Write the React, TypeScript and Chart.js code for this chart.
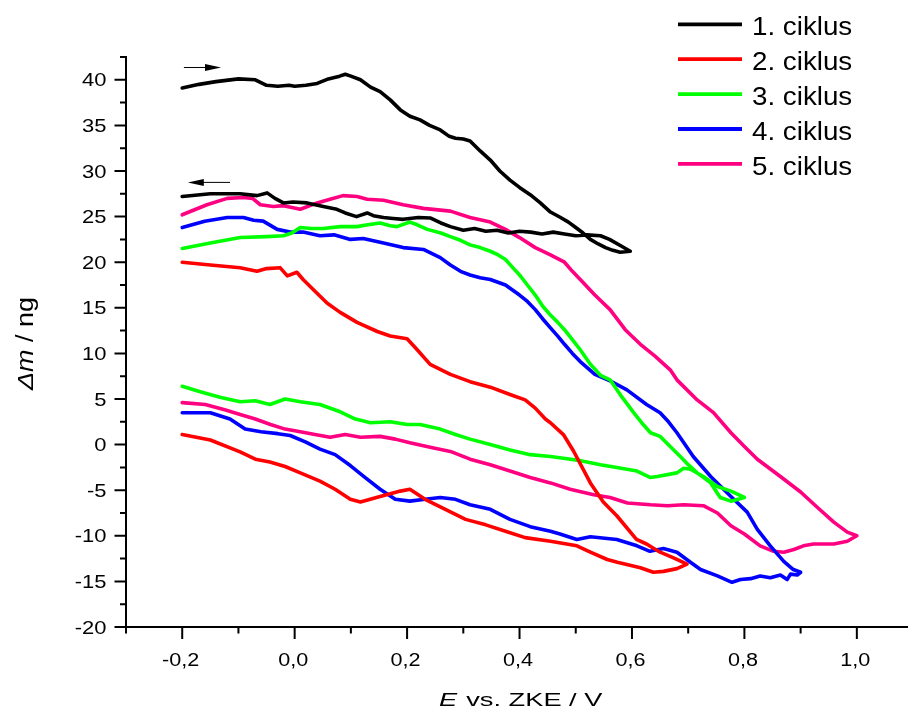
import React, { useEffect, useRef } from "react";
import { Chart, registerables } from "chart.js";

Chart.register(...registerables);

// ---------- data ----------
const seriesNames = ["1. ciklus", "2. ciklus", "3. ciklus", "4. ciklus", "5. ciklus"];
const seriesColors = ["#000000", "#ff0000", "#00ff00", "#0000ff", "#ff0080"];

const cycle1: number[][] = [
  [-0.2, 39.1], [-0.17, 39.5], [-0.14, 39.8], [-0.1, 40.1], [-0.07, 40.0], [-0.05, 39.4], [-0.03, 39.3],
  [-0.01, 39.4], [0.0, 39.3], [0.02, 39.4], [0.04, 39.6], [0.06, 40.1], [0.08, 40.4], [0.09, 40.6],
  [0.1, 40.4], [0.117, 40.0], [0.135, 39.2], [0.152, 38.7], [0.17, 37.8], [0.188, 36.7], [0.205, 36.0],
  [0.223, 35.6], [0.24, 35.0], [0.259, 34.5], [0.275, 33.8], [0.286, 33.6], [0.3, 33.5], [0.312, 33.3],
  [0.33, 32.2], [0.348, 31.2], [0.365, 30.0], [0.383, 29.0], [0.4, 28.2], [0.419, 27.4], [0.437, 26.5],
  [0.455, 25.5], [0.473, 24.9], [0.487, 24.4], [0.5, 23.8], [0.513, 23.2], [0.526, 22.5], [0.54, 22.0],
  [0.553, 21.6], [0.566, 21.3], [0.579, 21.1], [0.597, 21.2],
  [0.58, 21.8], [0.56, 22.5], [0.544, 22.9], [0.52, 23.0], [0.5, 22.9], [0.48, 23.1], [0.46, 23.3],
  [0.44, 23.1], [0.42, 23.3], [0.4, 23.4], [0.38, 23.2], [0.36, 23.5], [0.34, 23.4], [0.32, 23.7],
  [0.3, 23.5], [0.277, 23.9], [0.26, 24.3], [0.241, 24.85], [0.22, 24.9], [0.193, 24.7], [0.175, 24.8],
  [0.158, 24.9], [0.14, 25.1], [0.129, 25.4], [0.11, 25.0], [0.09, 25.4], [0.075, 25.8], [0.051, 26.1],
  [0.022, 26.5], [-0.003, 26.6], [-0.02, 26.5], [-0.035, 27.0], [-0.049, 27.6], [-0.067, 27.3],
  [-0.097, 27.5], [-0.15, 27.5], [-0.2, 27.2],
];

const cycle2: number[][] = [
  [-0.2, 20.0], [-0.15, 19.7], [-0.097, 19.4], [-0.067, 19.0], [-0.05, 19.3], [-0.026, 19.4], [-0.013, 18.5],
  [0.004, 18.9], [0.015, 18.1], [0.033, 17.0], [0.058, 15.5], [0.081, 14.5], [0.111, 13.4], [0.147, 12.4],
  [0.17, 11.9], [0.2, 11.6], [0.218, 10.4], [0.241, 8.8], [0.277, 7.7], [0.312, 6.9], [0.348, 6.3],
  [0.383, 5.5], [0.41, 4.9], [0.428, 4.0], [0.446, 2.8], [0.455, 2.4], [0.478, 1.1], [0.496, -0.7],
  [0.526, -4.2], [0.549, -6.3], [0.573, -7.8], [0.608, -10.4], [0.626, -10.9], [0.65, -11.8],
  [0.673, -12.4], [0.698, -13.1],
  [0.68, -13.6], [0.656, -13.9], [0.638, -14.0], [0.615, -13.5], [0.574, -12.9], [0.556, -12.6],
  [0.526, -11.8], [0.502, -11.1], [0.455, -10.6], [0.41, -10.2], [0.375, -9.5], [0.34, -8.8],
  [0.304, -8.2], [0.268, -7.1], [0.232, -6.0], [0.205, -4.9], [0.188, -5.1], [0.152, -5.7],
  [0.117, -6.3], [0.099, -6.0], [0.072, -4.9], [0.045, -4.0], [0.01, -3.1], [-0.017, -2.4],
  [-0.044, -1.9], [-0.07, -1.6], [-0.097, -0.8], [-0.15, 0.5], [-0.2, 1.1],
];

const cycle3: number[][] = [
  [-0.2, 21.5], [-0.15, 22.1], [-0.097, 22.7], [-0.05, 22.8], [-0.02, 22.9], [-0.005, 23.2], [0.01, 23.8],
  [0.03, 23.7], [0.051, 23.7], [0.081, 23.9], [0.111, 23.9], [0.13, 24.1], [0.152, 24.3], [0.17, 24.0],
  [0.182, 23.9], [0.205, 24.4], [0.218, 24.1], [0.236, 23.6], [0.26, 23.2], [0.277, 22.8], [0.295, 22.4],
  [0.312, 21.9], [0.33, 21.6], [0.348, 21.2], [0.362, 20.8], [0.375, 20.3], [0.388, 19.4], [0.4, 18.6],
  [0.414, 17.5], [0.428, 16.4], [0.441, 15.2], [0.455, 14.2], [0.468, 13.4], [0.48, 12.6], [0.494, 11.5],
  [0.508, 10.4], [0.526, 8.8], [0.544, 7.6], [0.561, 7.1], [0.58, 5.4], [0.603, 3.5], [0.62, 2.2],
  [0.633, 1.3], [0.65, 0.9], [0.668, -0.2], [0.686, -1.3], [0.7, -2.2], [0.716, -3.1], [0.74, -4.2],
  [0.757, -5.8], [0.776, -6.2], [0.8, -5.8],
  [0.776, -5.1], [0.752, -4.6], [0.727, -3.5], [0.704, -2.7], [0.692, -2.6], [0.68, -3.1], [0.645, -3.5],
  [0.632, -3.6], [0.609, -2.9], [0.573, -2.5], [0.544, -2.2], [0.502, -1.7], [0.478, -1.5], [0.455, -1.3],
  [0.419, -1.1], [0.383, -0.6], [0.348, 0.0], [0.312, 0.6], [0.286, 1.1], [0.259, 1.7], [0.223, 2.2],
  [0.2, 2.2], [0.17, 2.5], [0.135, 2.4], [0.108, 2.8], [0.081, 3.6], [0.045, 4.4], [0.01, 4.7],
  [-0.017, 5.0], [-0.044, 4.4], [-0.07, 4.8], [-0.097, 4.7], [-0.133, 5.2], [-0.168, 5.8], [-0.2, 6.4],
];

const cycle4: number[][] = [
  [-0.2, 23.8], [-0.16, 24.5], [-0.12, 24.9], [-0.091, 24.9], [-0.073, 24.6], [-0.056, 24.5], [-0.031, 23.6],
  [-0.008, 23.3], [0.015, 23.3], [0.045, 22.9], [0.07, 23.0], [0.099, 22.5], [0.122, 22.6], [0.158, 22.1],
  [0.193, 21.6], [0.229, 21.4], [0.259, 20.5], [0.277, 19.7], [0.295, 19.0], [0.312, 18.6], [0.33, 18.3],
  [0.348, 18.1], [0.375, 17.5], [0.4, 16.4], [0.414, 15.7], [0.428, 14.8], [0.441, 13.8], [0.455, 12.8],
  [0.468, 11.9], [0.48, 11.0], [0.494, 10.0], [0.508, 9.1], [0.534, 7.7], [0.561, 7.0], [0.591, 6.0],
  [0.626, 4.4], [0.65, 3.5], [0.665, 2.5], [0.68, 1.3], [0.709, -1.3], [0.74, -3.5], [0.776, -5.7],
  [0.805, -7.4], [0.823, -9.3], [0.846, -11.1], [0.87, -12.8], [0.887, -13.7], [0.9, -14.0],
  [0.894, -14.3], [0.882, -14.2], [0.876, -14.8], [0.864, -14.3], [0.846, -14.6], [0.828, -14.4],
  [0.811, -14.7], [0.793, -14.8], [0.778, -15.1], [0.752, -14.4], [0.722, -13.7], [0.704, -12.9],
  [0.68, -11.8], [0.656, -11.4], [0.632, -11.7], [0.609, -11.1], [0.573, -10.4], [0.526, -10.1],
  [0.502, -10.4], [0.472, -9.8], [0.455, -9.5], [0.419, -9.0], [0.383, -8.2], [0.348, -7.1],
  [0.312, -6.6], [0.286, -6.0], [0.259, -5.8], [0.232, -6.0], [0.205, -6.2], [0.179, -6.0],
  [0.152, -4.9], [0.125, -3.6], [0.099, -2.3], [0.072, -1.1], [0.045, -0.5], [0.019, 0.3],
  [-0.008, 1.0], [-0.03, 1.2], [-0.06, 1.4], [-0.088, 1.7], [-0.115, 2.8], [-0.15, 3.5], [-0.2, 3.5],
];

const cycle5: number[][] = [
  [-0.2, 25.2], [-0.156, 26.3], [-0.12, 27.0], [-0.091, 27.1], [-0.075, 27.0], [-0.061, 26.3],
  [-0.038, 26.1], [-0.02, 26.2], [0.01, 25.8], [0.04, 26.5], [0.063, 26.9], [0.086, 27.3], [0.111, 27.2],
  [0.129, 26.9], [0.158, 26.8], [0.193, 26.3], [0.229, 25.9], [0.277, 25.6], [0.312, 24.9], [0.348, 24.4],
  [0.375, 23.6], [0.4, 22.7], [0.428, 21.6], [0.455, 20.8], [0.48, 20.0], [0.494, 19.0], [0.508, 18.1],
  [0.534, 16.4], [0.561, 14.8], [0.588, 12.6], [0.615, 11.0], [0.641, 9.7], [0.668, 8.2], [0.68, 7.1],
  [0.716, 4.9], [0.745, 3.5], [0.776, 1.3], [0.8, -0.2], [0.823, -1.6], [0.864, -3.5], [0.9, -5.2],
  [0.93, -6.9], [0.959, -8.5], [0.983, -9.6], [1.0, -10.0],
  [0.983, -10.6], [0.959, -10.9], [0.923, -10.9], [0.905, -11.1], [0.888, -11.5], [0.87, -11.8],
  [0.852, -11.7], [0.828, -11.1], [0.8, -9.8], [0.776, -8.9], [0.752, -7.5], [0.727, -6.7],
  [0.692, -6.6], [0.663, -6.7], [0.633, -6.6], [0.592, -6.4], [0.561, -5.8], [0.532, -5.5],
  [0.49, -4.9], [0.455, -4.2], [0.419, -3.6], [0.383, -2.9], [0.348, -2.2], [0.312, -1.6],
  [0.277, -0.75], [0.241, -0.3], [0.205, 0.2], [0.179, 0.6], [0.152, 0.9], [0.117, 0.8], [0.09, 1.1],
  [0.063, 0.8], [0.036, 1.1], [0.01, 1.4], [-0.017, 1.7], [-0.043, 2.2], [-0.07, 2.8], [-0.097, 3.3],
  [-0.123, 3.8], [-0.159, 4.4], [-0.2, 4.6],
];

const cycles = [cycle1, cycle2, cycle3, cycle4, cycle5];

const xMajorTicks = [-0.2, 0.0, 0.2, 0.4, 0.6, 0.8, 1.0];
const xMinorTicks = [-0.3, -0.1, 0.1, 0.3, 0.5, 0.7, 0.9];
const yMajorTicks = [-20, -15, -10, -5, 0, 5, 10, 15, 20, 25, 30, 35, 40];
const yMinorTicks = [-17.5, -12.5, -7.5, -2.5, 2.5, 7.5, 12.5, 17.5, 22.5, 27.5, 32.5, 37.5, 42.5];

// direction arrows: [xFrom, xTo(head), y]
const arrows: number[][] = [
  [-0.197, -0.131, 41.35],
  [-0.115, -0.19, 28.75],
];

const FONT = '"Liberation Sans", Arial, Helvetica, sans-serif';

const overlayPlugin = {
  id: "overlay",
  afterDraw(chart: any) {
    const ctx: CanvasRenderingContext2D = chart.ctx;
    const xs = chart.scales.x;
    const ys = chart.scales.y;
    const area = chart.chartArea;
    ctx.save();
    ctx.strokeStyle = "#000";
    ctx.fillStyle = "#000";
    ctx.lineWidth = 2;

    // ticks
    const bottom = area.bottom;
    const left = area.left;
    ctx.beginPath();
    xMajorTicks.forEach((v) => {
      const p = xs.getPixelForValue(v);
      ctx.moveTo(p, bottom);
      ctx.lineTo(p, bottom + 12);
    });
    xMinorTicks.forEach((v) => {
      const p = xs.getPixelForValue(v);
      ctx.moveTo(p, bottom);
      ctx.lineTo(p, bottom + 6.5);
    });
    yMajorTicks.forEach((v) => {
      const p = ys.getPixelForValue(v);
      ctx.moveTo(left, p);
      ctx.lineTo(left - 11.5, p);
    });
    yMinorTicks.forEach((v) => {
      const p = ys.getPixelForValue(v);
      ctx.moveTo(left, p);
      ctx.lineTo(left - 6, p);
    });
    ctx.stroke();

    const stretched = (text: string, x: number, y: number, align: CanvasTextAlign, sx: number) => {
      ctx.save();
      ctx.translate(x, y);
      ctx.scale(sx, 1);
      ctx.textAlign = align;
      ctx.textBaseline = "alphabetic";
      ctx.fillText(text, 0, 0);
      ctx.restore();
    };

    // tick labels
    ctx.font = `18px ${FONT}`;
    xMajorTicks.forEach((v) => {
      const p = xs.getPixelForValue(v);
      stretched(v.toFixed(1).replace(".", ","), p - 1.5, bottom + 39, "center", 1.2);
    });
    yMajorTicks.forEach((v) => {
      const p = ys.getPixelForValue(v);
      stretched(String(v), left - 19.5, p + 6.5, "right", 1.22);
    });

    // x title: italic E + " vs. ZKE / V"
    {
      const fs = 19;
      ctx.font = `italic ${fs}px ${FONT}`;
      const w1 = ctx.measureText("E").width;
      ctx.font = `${fs}px ${FONT}`;
      const w2 = ctx.measureText(" vs. ZKE / V").width;
      const f = 162 / (w1 + w2);
      ctx.save();
      ctx.translate(439, 705.5);
      ctx.scale(f, 1);
      ctx.textAlign = "left";
      ctx.textBaseline = "alphabetic";
      ctx.font = `italic ${fs}px ${FONT}`;
      ctx.fillText("E", 0, 0);
      ctx.font = `${fs}px ${FONT}`;
      ctx.fillText(" vs. ZKE / V", w1 + 1, 0);
      ctx.restore();
    }

    // y title: italic Δm + " / ng", rotated
    {
      const fs = 23;
      ctx.font = `italic ${fs}px ${FONT}`;
      const w1 = ctx.measureText("\u0394m").width;
      ctx.font = `${fs}px ${FONT}`;
      const w2 = ctx.measureText(" / ng").width;
      const f = 93 / (w1 + w2);
      ctx.save();
      ctx.translate(32.5, 343.5);
      ctx.rotate(-Math.PI / 2);
      ctx.scale(f, 1);
      ctx.textAlign = "left";
      ctx.textBaseline = "alphabetic";
      const start = -(w1 + w2) / 2;
      ctx.font = `italic ${fs}px ${FONT}`;
      ctx.fillText("\u0394m", start, 0);
      ctx.font = `${fs}px ${FONT}`;
      ctx.fillText(" / ng", start + w1, 0);
      ctx.restore();
    }

    // legend
    ctx.font = `25px ${FONT}`;
    seriesNames.forEach((name, i) => {
      const y = 24.3 + i * 34.9;
      ctx.strokeStyle = seriesColors[i];
      ctx.lineWidth = 3.8;
      ctx.beginPath();
      ctx.moveTo(678, y);
      ctx.lineTo(742, y);
      ctx.stroke();
      ctx.fillStyle = "#000";
      stretched(name, 752, y + 10.7, "left", 1.11);
    });

    // arrows
    ctx.strokeStyle = "#000";
    ctx.fillStyle = "#000";
    ctx.lineWidth = 1;
    arrows.forEach(([from, to, yv]) => {
      const x0 = xs.getPixelForValue(from);
      const x1 = xs.getPixelForValue(to);
      const y = ys.getPixelForValue(yv);
      const dir = Math.sign(x1 - x0);
      ctx.beginPath();
      ctx.moveTo(x0, y);
      ctx.lineTo(x1 - dir * 10, y);
      ctx.stroke();
      ctx.beginPath();
      ctx.moveTo(x1, y);
      ctx.lineTo(x1 - dir * 16, y - 3.5);
      ctx.lineTo(x1 - dir * 16, y + 3.5);
      ctx.closePath();
      ctx.fill();
    });

    ctx.restore();
  },
};

export default function App() {
  const canvasRef = useRef<HTMLCanvasElement | null>(null);

  useEffect(() => {
    const canvas = canvasRef.current;
    if (!canvas) return;
    const chart = new Chart(canvas, {
      type: "scatter",
      data: {
        datasets: cycles.map((c, i) => ({
          label: seriesNames[i],
          data: c.map(([x, y]) => ({ x, y })),
          showLine: true,
          borderColor: seriesColors[i],
          backgroundColor: seriesColors[i],
          borderWidth: 3.6,
          pointRadius: 0,
          pointHoverRadius: 0,
          tension: 0,
          fill: false,
          borderJoinStyle: "round" as const,
          borderCapStyle: "round" as const,
        })),
      },
      options: {
        animation: false,
        responsive: false,
        events: [],
        layout: { padding: { top: 57, left: 0, right: 0, bottom: 0 } },
        plugins: {
          legend: { display: false },
          tooltip: { enabled: false },
        },
        scales: {
          x: {
            type: "linear",
            min: -0.3,
            max: 1.091,
            ticks: { display: false },
            grid: { display: false },
            border: { display: true, color: "#000", width: 2 },
            afterFit: (s: any) => {
              s.height = 88;
            },
          },
          y: {
            type: "linear",
            min: -20,
            max: 42.5,
            ticks: { display: false },
            grid: { display: false },
            border: { display: true, color: "#000", width: 2 },
            afterFit: (s: any) => {
              s.width = 126;
            },
          },
        },
      },
      plugins: [overlayPlugin],
    });
    return () => chart.destroy();
  }, []);

  return (
    <div style={{ position: "absolute", left: 0, top: 0, width: 908, height: 715, background: "#fff" }}>
      <canvas ref={canvasRef} width={908} height={715} style={{ display: "block", width: 908, height: 715 }} />
    </div>
  );
}
